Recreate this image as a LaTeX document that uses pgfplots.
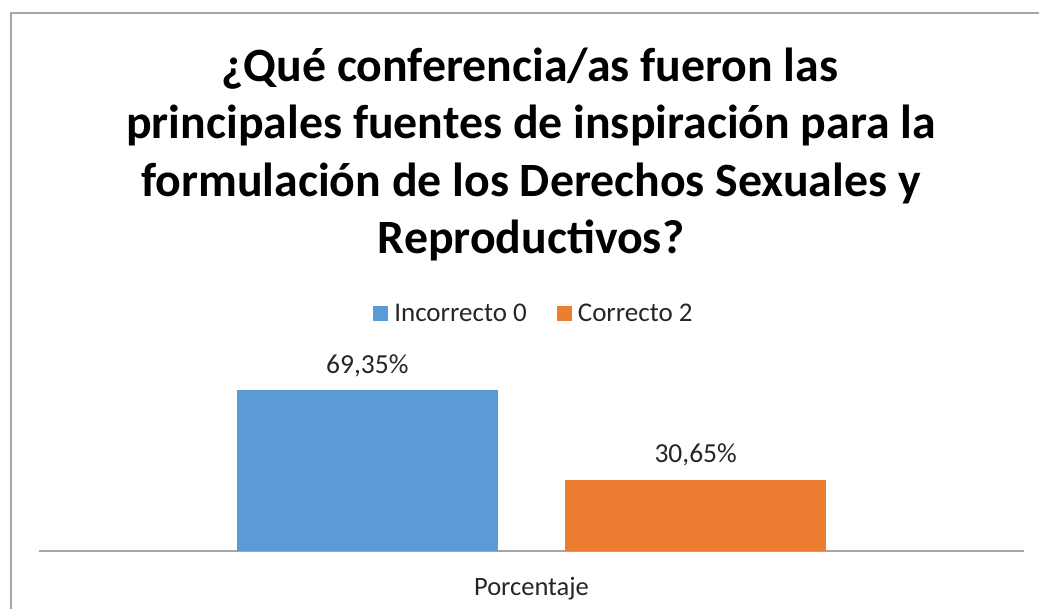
\documentclass[border=0pt]{standalone}
\usepackage{pgfplots}
\pgfplotsset{compat=1.18}
\usepackage{fontspec}
\setmainfont{Carlito}
\definecolor{cblue}{HTML}{5B9BD5}
\definecolor{corange}{HTML}{ED7D31}
\definecolor{frame}{HTML}{A6A6A6}
\definecolor{txt}{HTML}{262626}
\begin{document}
\begin{tikzpicture}[x=1pt,y=1pt]
\useasboundingbox (0,0) rectangle (1039,609);
\draw[frame, line width=1.5pt] (11,-10) -- (11,596) -- (1050,596);
\node[anchor=base, font=\fontsize{47.8}{56}\selectfont\bfseries] at (530,527) {¿Qué conferencia/as fueron las};
\node[anchor=base, font=\fontsize{47.8}{56}\selectfont\bfseries] at (531,470) {principales fuentes de inspiración para la};
\node[anchor=base, font=\fontsize{47.8}{56}\selectfont\bfseries] at (531,412) {formulación de los Derechos Sexuales y};
\node[anchor=base, font=\fontsize{47.8}{56}\selectfont\bfseries] at (531,355) {Reproductivos?};
\begin{axis}[
  at={(39pt,58pt)}, anchor=south west,
  scale only axis, width=985pt, height=185.6pt,
  xmin=-1, xmax=2, ymin=0, ymax=80,
  axis y line=none, axis x line*=bottom,
  x axis line style={-, draw=frame, line width=2pt},
  xtick={0.5}, xticklabels={Porcentaje}, major tick length=0pt,
  xticklabel style={font=\fontsize{26.5}{30}\selectfont, text=txt, anchor=base, yshift=-45pt},
  ytick=\empty,
  ybar, bar width=261pt, bar shift=0pt,
  point meta=explicit symbolic,
  nodes near coords,
  every node near coord/.append style={font=\fontsize{27.5}{30}\selectfont, text=txt, anchor=base, yshift=17pt},
  legend columns=2,
  legend style={at={(0.5025,1.282)}, anchor=center, draw=none, fill=none,
    font=\fontsize{27}{30}\selectfont, text=txt,
    /tikz/every even column/.append style={column sep=28pt}},
  legend image code/.code={\fill[#1] (0pt,-7.5pt) rectangle (15pt,7.5pt);},
]
\addplot[fill=cblue, draw=none] coordinates {(0,69.35) [69,35\%]};
\addplot[fill=corange, draw=none] coordinates {(1,30.65) [30,65\%]};
\legend{\hspace{4pt}Incorrecto 0, \hspace{4pt}Correcto 2}
\end{axis}
\end{tikzpicture}
\end{document}
